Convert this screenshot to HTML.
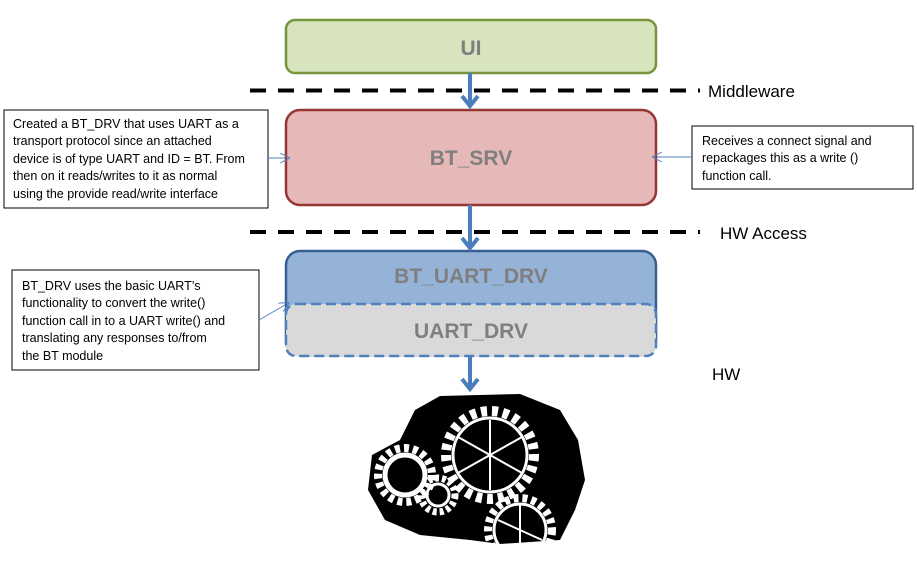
<!DOCTYPE html>
<html><head><meta charset="utf-8"><style>
html,body{margin:0;padding:0;background:#fff;}
svg{display:block;}
text{font-family:"Liberation Sans",sans-serif;}
</style></head><body>
<svg width="917" height="561" viewBox="0 0 917 561" xmlns="http://www.w3.org/2000/svg">
<defs>
<marker id="ah" markerWidth="10" markerHeight="10" refX="5" refY="5" orient="auto" markerUnits="userSpaceOnUse"><path d="M0,0 L10,5 L0,10" fill="none" stroke="#4f81bd" stroke-width="1"/></marker>
</defs>
<!-- dashed lines -->
<line x1="250" y1="90.5" x2="700" y2="90.5" stroke="#000" stroke-width="4" stroke-dasharray="16,12"/>
<line x1="250" y1="232" x2="700" y2="232" stroke="#000" stroke-width="4" stroke-dasharray="16,12"/>
<!-- boxes -->
<rect x="286" y="20" width="370" height="53" rx="9" fill="#d7e4bd" stroke="#77933c" stroke-width="2.5"/>
<text x="471" y="55" text-anchor="middle" font-size="21" font-weight="bold" fill="#7f7f7f">UI</text>
<rect x="286" y="110" width="370" height="95" rx="14" fill="#e6b9b8" stroke="#953735" stroke-width="2.5"/>
<text x="471" y="165" text-anchor="middle" font-size="21" font-weight="bold" fill="#7f7f7f">BT_SRV</text>
<rect x="286" y="251" width="370" height="104" rx="14" fill="#95b3d7" stroke="#376092" stroke-width="2.5"/>
<text x="471" y="283" text-anchor="middle" font-size="21" font-weight="bold" fill="#7f7f7f">BT_UART_DRV</text>
<rect x="286" y="304" width="370" height="52" rx="10" fill="#d9d9d9" stroke="#4f81bd" stroke-width="2.5" stroke-dasharray="10,5"/>
<text x="471" y="338" text-anchor="middle" font-size="21" font-weight="bold" fill="#7f7f7f">UART_DRV</text>
<!-- thick arrows -->
<g stroke="#4a7ebb" stroke-width="4" fill="none">
<line x1="470" y1="73" x2="470" y2="106"/><path d="M462,96 L470,106 L478,96"/>
<line x1="470" y1="205" x2="470" y2="248"/><path d="M462,238 L470,248 L478,238"/>
<line x1="470" y1="356" x2="470" y2="389"/><path d="M462,379 L470,389 L478,379"/>
</g>
<!-- labels -->
<text x="708" y="97" font-size="17" fill="#000">Middleware</text>
<text x="720" y="239" font-size="17" fill="#000">HW Access</text>
<text x="712" y="380" font-size="17" fill="#000">HW</text>
<!-- notes -->
<rect x="4" y="110" width="264" height="98" fill="#fff" stroke="#000" stroke-width="1"/>
<g font-size="12.5" fill="#000">
<text x="13" y="128">Created a BT_DRV that uses UART as a</text>
<text x="13" y="145">transport protocol since an attached</text>
<text x="13" y="163">device is of type UART and ID = BT.  From</text>
<text x="13" y="180">then on it reads/writes to it as normal</text>
<text x="13" y="198">using the provide read/write interface</text>
</g>
<line x1="268" y1="158" x2="285" y2="158" stroke="#4f81bd" marker-end="url(#ah)"/>
<rect x="692" y="126" width="221" height="63" fill="#fff" stroke="#000" stroke-width="1"/>
<g font-size="12.5" fill="#000">
<text x="702" y="145">Receives a connect signal and</text>
<text x="702" y="162">repackages this as a write ()</text>
<text x="702" y="180">function call.</text>
</g>
<line x1="692" y1="157" x2="657" y2="157" stroke="#4f81bd" marker-end="url(#ah)"/>
<rect x="12" y="270" width="247" height="100" fill="#fff" stroke="#000" stroke-width="1"/>
<g font-size="12.5" fill="#000">
<text x="22" y="290">BT_DRV uses the basic UART’s</text>
<text x="22" y="307">functionality  to convert the write()</text>
<text x="22" y="325">function call in to a UART write() and</text>
<text x="22" y="342">translating any responses to/from</text>
<text x="22" y="360">the BT module</text>
</g>
<line x1="259" y1="320" x2="285" y2="305" stroke="#4f81bd" marker-end="url(#ah)"/>
<!-- gears -->
<g>
<path d="M440,396 L520,394 L560,410 L578,440 L585,480 L575,510 L560,540 L500,544 L470,540 L420,535 L385,520 L368,490 L372,455 L400,440 L415,410 Z" fill="#000"/>
<g fill="none" stroke="#fff">
<circle cx="490" cy="455" r="44" stroke-width="10" stroke-dasharray="6,5"/>
<circle cx="490" cy="455" r="37" stroke-width="3"/>
<circle cx="405" cy="475" r="27" stroke-width="8" stroke-dasharray="5,4"/>
<circle cx="405" cy="475" r="20" stroke-width="5"/>
<circle cx="438" cy="495" r="17" stroke-width="7" stroke-dasharray="4,3"/>
<circle cx="438" cy="495" r="11" stroke-width="3"/>
<circle cx="520" cy="530" r="32" stroke-width="8" stroke-dasharray="5,4"/>
<circle cx="520" cy="530" r="26" stroke-width="3"/>
<g stroke-width="2">
<line x1="490" y1="420" x2="490" y2="490"/><line x1="458" y1="437" x2="522" y2="473"/><line x1="458" y1="473" x2="522" y2="437"/>
<line x1="520" y1="505" x2="520" y2="545"/><line x1="498" y1="520" x2="542" y2="540"/>
</g>
</g>
</g>
</svg>
</body></html>
